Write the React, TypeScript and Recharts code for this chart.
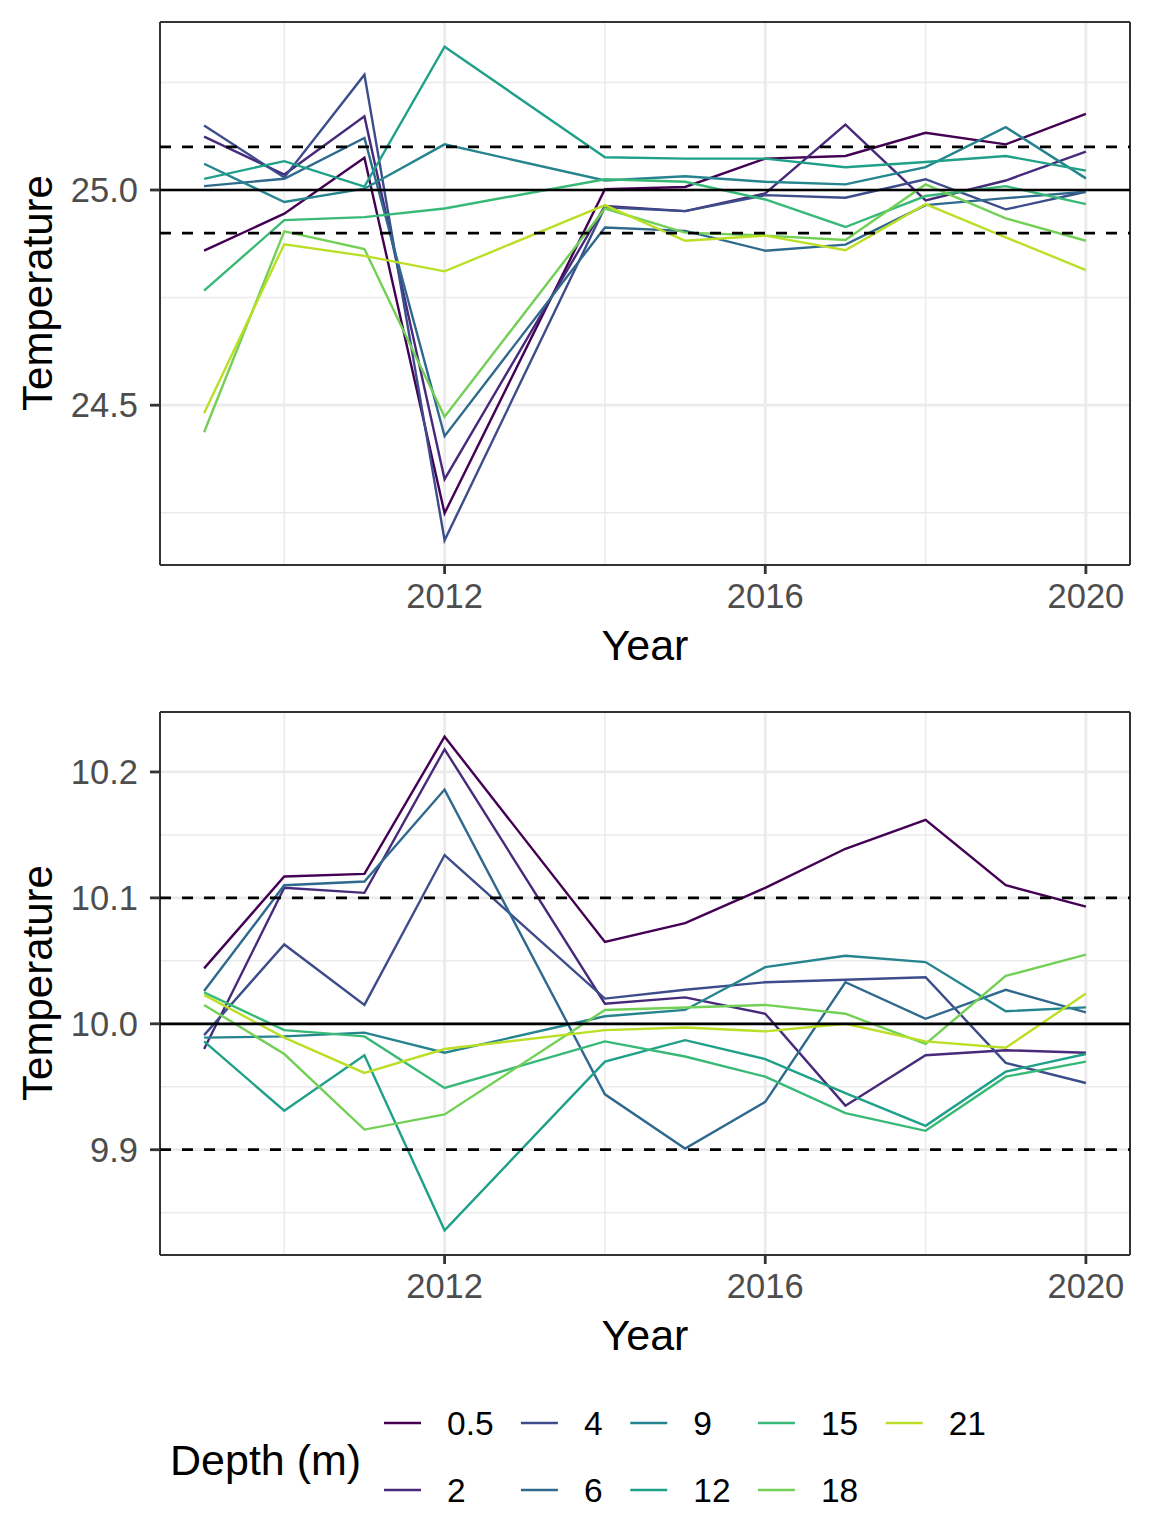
import React from 'react';
import { LineChart, Line, XAxis, YAxis, CartesianGrid, ReferenceLine } from 'recharts';

const years = [2009, 2010, 2011, 2012, 2014, 2015, 2016, 2017, 2018, 2019, 2020];
const depths = ['0.5', '2', '4', '6', '9', '12', '15', '18', '21'];
const colors = ['#440154', '#472A7A', '#3D4C8A', '#30698E', '#25848E', '#1FA088', '#38B977', '#73D056', '#BBDF27'];

// Upper panel (temperature around 25)
const upper05 = [24.859, 24.945, 25.075, 24.249, 25.002, 25.007, 25.073, 25.079, 25.133, 25.106, 25.177];
const upper2 = [25.124, 25.036, 25.171, 24.328, 24.963, 24.951, 24.992, 25.152, 24.976, 25.022, 25.089];
const upper4 = [25.150, 25.029, 25.268, 24.186, 24.960, 24.951, 24.988, 24.982, 25.025, 24.955, 24.996];
const upper6 = [25.009, 25.026, 25.121, 24.428, 24.913, 24.905, 24.859, 24.873, 24.965, 24.981, 24.996];
const upper9 = [25.061, 24.972, 25.003, 25.106, 25.022, 25.032, 25.019, 25.013, 25.053, 25.146, 25.027];
const upper12 = [25.026, 25.067, 25.008, 25.333, 25.076, 25.073, 25.073, 25.053, 25.065, 25.079, 25.045];
const upper15 = [24.766, 24.930, 24.937, 24.957, 25.025, 25.019, 24.978, 24.914, 24.986, 25.009, 24.967];
const upper18 = [24.437, 24.904, 24.863, 24.473, 24.957, 24.901, 24.894, 24.884, 25.013, 24.934, 24.882];
const upper21 = [24.481, 24.874, 24.847, 24.811, 24.965, 24.882, 24.894, 24.860, 24.967, 24.890, 24.814];

// Lower panel (temperature around 10)
const lower05 = [10.044, 10.117, 10.119, 10.228, 10.065, 10.080, 10.108, 10.139, 10.162, 10.110, 10.093];
const lower2 = [9.980, 10.108, 10.104, 10.218, 10.016, 10.021, 10.008, 9.935, 9.975, 9.979, 9.977];
const lower4 = [9.991, 10.063, 10.015, 10.134, 10.020, 10.027, 10.033, 10.035, 10.037, 9.969, 9.953];
const lower6 = [10.026, 10.110, 10.113, 10.186, 9.944, 9.901, 9.938, 10.033, 10.004, 10.027, 10.009];
const lower9 = [9.989, 9.990, 9.993, 9.977, 10.006, 10.011, 10.045, 10.054, 10.049, 10.010, 10.013];
const lower12 = [9.986, 9.931, 9.975, 9.836, 9.970, 9.987, 9.972, 9.945, 9.919, 9.962, 9.976];
const lower15 = [10.025, 9.995, 9.990, 9.949, 9.986, 9.974, 9.958, 9.929, 9.915, 9.958, 9.970];
const lower18 = [10.015, 9.976, 9.916, 9.928, 10.011, 10.013, 10.015, 10.008, 9.984, 10.038, 10.055];
const lower21 = [10.023, 9.989, 9.961, 9.980, 9.995, 9.997, 9.994, 10.000, 9.986, 9.981, 10.024];

const upperSeries = [upper05, upper2, upper4, upper6, upper9, upper12, upper15, upper18, upper21];
const lowerSeries = [lower05, lower2, lower4, lower6, lower9, lower12, lower15, lower18, lower21];

const xTicks = [2012, 2016, 2020];
const xMinor = [2010, 2014, 2018];
const upperTicks = [24.5, 25.0];
const upperMinor = [24.25, 24.75, 25.25];
const upperRefs = [24.9, 25.0, 25.1];
const lowerTicks = [9.9, 10.0, 10.1, 10.2];
const lowerMinor = [9.85, 9.95, 10.05, 10.15];
const lowerRefs = [9.9, 10.0, 10.1];

const FONT = '"Liberation Sans", Arial, Helvetica, sans-serif';
const CHART_W = 1152;
const CHART_H = 690;

function buildRows(series: number[][]) {
  return years.map((yr, i) => {
    const row: Record<string, number> = { year: yr };
    series.forEach((s, j) => {
      row['d' + j] = s[i];
    });
    return row;
  });
}

function expand(lo: number, hi: number): [number, number] {
  const r = hi - lo;
  return [lo - r * 0.05, hi + r * 0.05];
}

function Panel({ series, ticks, minor, refs, center }: { series: number[][]; ticks: number[]; minor: number[]; refs: number[]; center: number }) {
  const rows = buildRows(series);
  const all = series.flat();
  const yDom = expand(Math.min(...all), Math.max(...all));
  const xDom = expand(years[0], years[years.length - 1]);
  return (
    <div style={{ position: 'relative', width: CHART_W, height: CHART_H }}>
      <LineChart width={CHART_W} height={CHART_H} data={rows} margin={{ top: 22, right: 22, bottom: 0, left: 0 }}>
        <CartesianGrid stroke="#EBEBEB" strokeWidth={1.5} horizontalValues={minor} verticalValues={xMinor} />
        <CartesianGrid stroke="#EBEBEB" strokeWidth={2.8} horizontalValues={ticks} verticalValues={xTicks} />
        <CartesianGrid stroke="#333333" strokeWidth={2} horizontalValues={yDom} verticalValues={xDom} />
        <XAxis
          dataKey="year"
          type="number"
          domain={xDom}
          ticks={xTicks}
          allowDataOverflow
          axisLine={false}
          tickLine={{ stroke: '#333333', strokeWidth: 2.8 }}
          tickSize={9}
          tickMargin={10}
          height={125}
          tick={{ fill: '#4D4D4D', fontSize: 34.5, fontFamily: FONT }}
        />
        <YAxis
          type="number"
          domain={yDom}
          ticks={ticks}
          allowDataOverflow
          axisLine={false}
          tickLine={{ stroke: '#333333', strokeWidth: 2.8 }}
          tickSize={10}
          tickMargin={12}
          width={160}
          tickFormatter={(v: number) => v.toFixed(1)}
          tick={{ fill: '#4D4D4D', fontSize: 34.5, fontFamily: FONT }}
        />
        {series.map((_, j) => (
          <Line
            key={j}
            type="linear"
            dataKey={'d' + j}
            stroke={colors[j]}
            strokeWidth={2.4}
            dot={false}
            activeDot={false}
            isAnimationActive={false}
          />
        ))}
        {refs.map((r) => (
          <ReferenceLine
            key={r}
            y={r}
            stroke="#000000"
            strokeWidth={2.7}
            strokeDasharray={r === center ? undefined : '11 11'}
          />
        ))}
      </LineChart>
      <div
        style={{
          position: 'absolute',
          left: 38,
          top: 293,
          transform: 'translate(-50%, -50%) rotate(-90deg)',
          fontSize: 42,
          lineHeight: 1,
          fontFamily: FONT,
          color: '#000',
          whiteSpace: 'nowrap',
        }}
      >
        Temperature
      </div>
      <div
        style={{
          position: 'absolute',
          left: 645,
          top: 645,
          transform: 'translate(-50%, -50%)',
          fontSize: 43,
          lineHeight: 1,
          fontFamily: FONT,
          color: '#000',
          whiteSpace: 'nowrap',
        }}
      >
        Year
      </div>
    </div>
  );
}

const legendCols = [[0, 1], [2, 3], [4, 5], [6, 7], [8]];
const textW = (s: string) => [...s].reduce((a, c) => a + (c === '.' ? 9.2 : 18.35), 0);

function Legend() {
  let x = 384;
  const items: React.ReactNode[] = [];
  legendCols.forEach((col) => {
    const w = Math.max(...col.map((i) => textW(depths[i])));
    const keyX = x;
    col.forEach((idx, ri) => {
      const cy = ri === 0 ? 43 : 110;
      items.push(
        <g key={idx}>
          <line x1={keyX} x2={keyX + 37} y1={cy} y2={cy} stroke={colors[idx]} strokeWidth={2.5} />
          <text x={keyX + 63} y={cy} dy="0.36em" fontSize={33.5} fontFamily={FONT} fill="#000">
            {depths[idx]}
          </text>
        </g>
      );
    });
    x += 37 + 26 + w + 28;
  });
  return (
    <svg width={CHART_W} height={156} style={{ display: 'block' }}>
      <text x={170} y={80} dy="0.36em" fontSize={43} fontFamily={FONT} fill="#000">
        Depth (m)
      </text>
      {items}
    </svg>
  );
}

export default function App() {
  return (
    <div style={{ position: 'absolute', left: 0, top: 0, width: 1152, height: 1536, background: '#fff', fontFamily: FONT }}>
      <Panel series={upperSeries} ticks={upperTicks} minor={upperMinor} refs={upperRefs} center={25.0} />
      <Panel series={lowerSeries} ticks={lowerTicks} minor={lowerMinor} refs={lowerRefs} center={10.0} />
      <Legend />
    </div>
  );
}
